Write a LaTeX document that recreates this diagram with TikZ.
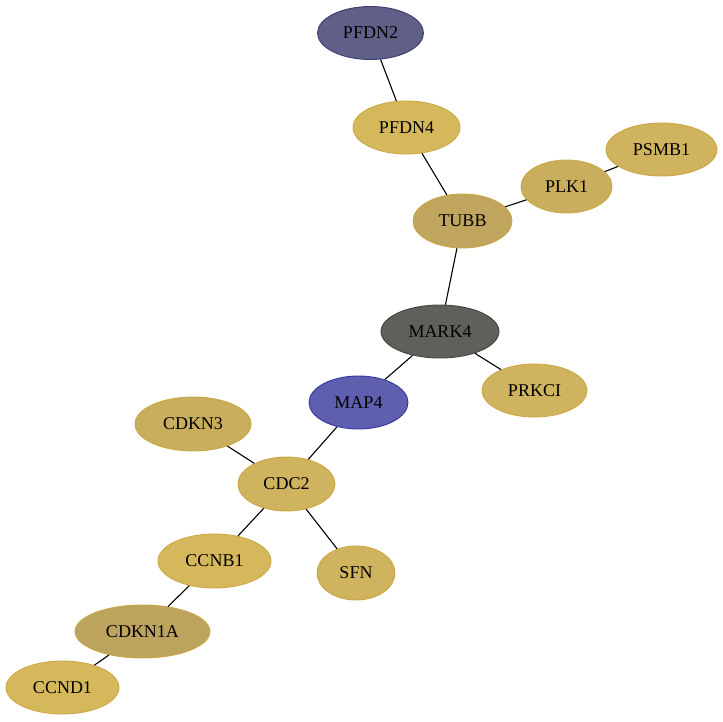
\documentclass[tikz,border=0pt]{standalone}
\usepackage{fontspec}
\setmainfont{Liberation Serif}
\usetikzlibrary{shapes.geometric}
\definecolor{cPFDNtwo}{HTML}{5F5F87}
\definecolor{bPFDNtwo}{HTML}{3C3C70}
\definecolor{cGoldA}{HTML}{D6B85C}
\definecolor{cGoldB}{HTML}{CFB35E}
\definecolor{cGoldC}{HTML}{C9AE5E}
\definecolor{cGoldD}{HTML}{BFA55E}
\definecolor{cGoldE}{HTML}{BCA35E}
\definecolor{bGold}{HTML}{CBA845}
\definecolor{cMARK}{HTML}{60605A}
\definecolor{bMARK}{HTML}{45453F}
\definecolor{cMAP}{HTML}{5F5FB0}
\definecolor{bMAP}{HTML}{3535A0}
\tikzset{
  gene/.style={ellipse, draw=bGold, line width=0.9pt, inner sep=0pt, font=\fontsize{18}{20}\selectfont, text=black},
  link/.style={draw=black, line width=1.1pt},
}
\begin{document}
\begin{tikzpicture}[x=1pt,y=-1pt]
\useasboundingbox (0,0) rectangle (723,721);
\node[gene, fill=cPFDNtwo, draw=bPFDNtwo, minimum width=106pt, minimum height=53pt] (PFDN2) at (370.5,33) {PFDN2};
\node[gene, fill=cGoldA, minimum width=107pt, minimum height=53pt] (PFDN4) at (406.5,127.5) {PFDN4};
\node[gene, fill=cGoldB, minimum width=111pt, minimum height=53pt] (PSMB1) at (661.5,149.5) {PSMB1};
\node[gene, fill=cGoldC, minimum width=91pt, minimum height=53pt] (PLK1) at (566.5,186.5) {PLK1};
\node[gene, fill=cGoldD, minimum width=99pt, minimum height=54pt] (TUBB) at (462.5,221) {TUBB};
\node[gene, fill=cMARK, draw=bMARK, minimum width=118pt, minimum height=53pt] (MARK4) at (440,331.5) {MARK4};
\node[gene, fill=cGoldB, minimum width=105pt, minimum height=53pt] (PRKCI) at (534.5,390.5) {PRKCI};
\node[gene, fill=cMAP, draw=bMAP, minimum width=99pt, minimum height=53pt] (MAP4) at (358.5,402.5) {MAP4};
\node[gene, fill=cGoldC, minimum width=116pt, minimum height=54pt] (CDKN3) at (193,424) {CDKN3};
\node[gene, fill=cGoldB, minimum width=97pt, minimum height=54pt] (CDC2) at (286.5,484) {CDC2};
\node[gene, fill=cGoldA, minimum width=113pt, minimum height=54pt] (CCNB1) at (214.5,561) {CCNB1};
\node[gene, fill=cGoldB, minimum width=78pt, minimum height=54pt] (SFN) at (356,573) {SFN};
\node[gene, fill=cGoldE, minimum width=135pt, minimum height=53pt] (CDKN1A) at (142.5,631.5) {CDKN1A};
\node[gene, fill=cGoldA, minimum width=113pt, minimum height=53pt] (CCND1) at (62.5,687.5) {CCND1};
\draw[link] (PFDN2) -- (PFDN4);
\draw[link] (PFDN4) -- (TUBB);
\draw[link] (TUBB) -- (PLK1);
\draw[link] (PLK1) -- (PSMB1);
\draw[link] (TUBB) -- (MARK4);
\draw[link] (MARK4) -- (PRKCI);
\draw[link] (MARK4) -- (MAP4);
\draw[link] (MAP4) -- (CDC2);
\draw[link] (CDKN3) -- (CDC2);
\draw[link] (CDC2) -- (CCNB1);
\draw[link] (CDC2) -- (SFN);
\draw[link] (CCNB1) -- (CDKN1A);
\draw[link] (CDKN1A) -- (CCND1);
\end{tikzpicture}
\end{document}
